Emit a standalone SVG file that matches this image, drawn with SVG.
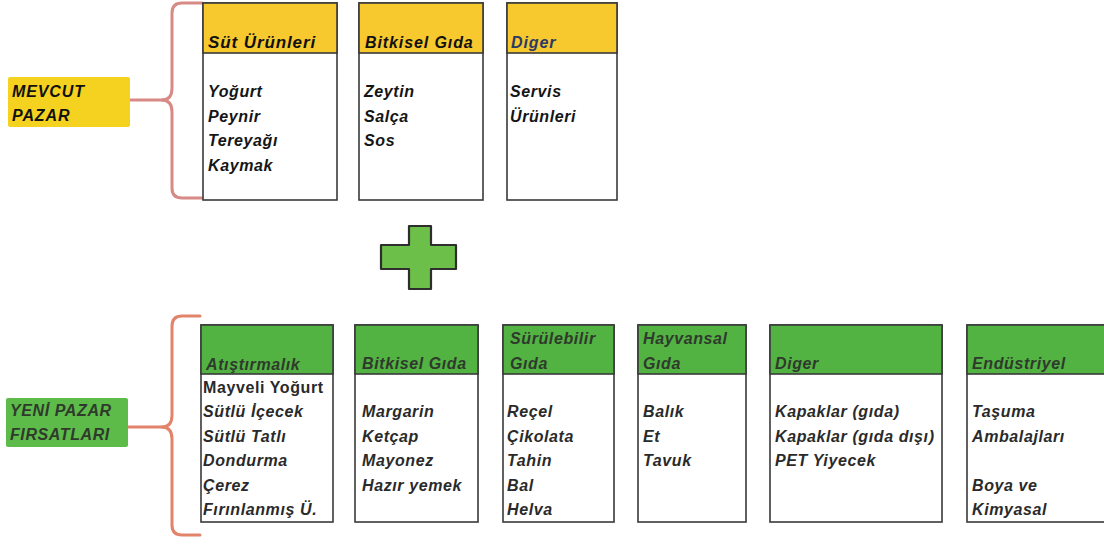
<svg xmlns="http://www.w3.org/2000/svg" width="1104" height="544" viewBox="0 0 1104 544">
<style>
text{font-family:"Liberation Sans",Arial,Helvetica,sans-serif;font-weight:bold;font-style:italic}
.box{fill:#fff;stroke:#3a3a3a;stroke-width:1.6}
.yh{fill:#F8C92E;stroke:#3a3a3a;stroke-width:1.6}
.gh{fill:#52B343;stroke:#3a3a3a;stroke-width:1.6}
.th{font-size:17px;letter-spacing:0.9px;fill:#111}
.tb{font-size:16px;letter-spacing:0.6px;fill:#151515}
.gt{font-size:16px;letter-spacing:0.6px;fill:#2f3a2c}
.lb{font-size:16px;letter-spacing:0.6px;fill:#2a2a2a}
.up{font-style:normal}
.brace{fill:none;stroke-width:3;stroke-linecap:round;stroke-linejoin:round}
</style>

<g id="connectors">
  <path class="brace" stroke="#D88A86" d="M202,3 H182 Q172,3 172,13 V88 Q172,100 162,100 Q172,100 172,112 V188 Q172,198 182,198 H202"/>
  <line x1="130" y1="100" x2="164" y2="100" stroke="#D88A86" stroke-width="3"/>
  <path class="brace" stroke="#E2846A" d="M200,316 H182 Q172,316 172,326 V415 Q172,427 162,427 Q172,427 172,439 V525 Q172,535 182,535 H200"/>
  <line x1="128" y1="427" x2="164" y2="427" stroke="#E2846A" stroke-width="3"/>
</g>

<g id="label-mevcut">
  <rect x="8" y="77" width="122" height="50" rx="2" fill="#F6D220"/>
  <text x="12" y="97" class="th" style="font-size:16px">MEVCUT</text>
  <text x="12" y="121" class="th" style="font-size:16px">PAZAR</text>
</g>

<g id="label-yeni">
  <rect x="6" y="398" width="122" height="49" rx="2" fill="#5DBB4A"/>
  <text x="10" y="416" class="gt">YENİ PAZAR</text>
  <text x="10" y="440" class="gt">FIRSATLARI</text>
</g>

<g id="top-sut">
  <rect class="box" x="203" y="3" width="134" height="197"/>
  <rect class="yh" x="203" y="3" width="134" height="50"/>
  <text x="208" y="48" class="th">Süt Ürünleri</text>
  <text x="208" y="97" class="tb">Yoğurt</text>
  <text x="208" y="121.5" class="tb">Peynir</text>
  <text x="208" y="146" class="tb">Tereyağı</text>
  <text x="208" y="170.5" class="tb">Kaymak</text>
</g>

<g id="top-bitkisel">
  <rect class="box" x="359" y="3" width="124" height="197"/>
  <rect class="yh" x="359" y="3" width="124" height="50"/>
  <text x="365" y="48" class="th" style="font-size:16px">Bitkisel Gıda</text>
  <text x="364" y="97" class="tb">Zeytin</text>
  <text x="364" y="121.5" class="tb">Salça</text>
  <text x="364" y="146" class="tb">Sos</text>
</g>

<g id="top-diger">
  <rect class="box" x="507" y="3" width="110" height="197"/>
  <rect class="yh" x="507" y="3" width="110" height="50"/>
  <text x="511" y="48" class="th" style="font-size:16px;fill:#2B3A67">Diger</text>
  <text x="510" y="97" class="tb">Servis</text>
  <text x="510" y="121.5" class="tb">Ürünleri</text>
</g>

<g id="plus">
  <path d="M409,226 H431 V245 H456 V269 H431 V289 H409 V269 H381 V245 H409 Z" fill="#6CC04A" stroke="#2e2e2e" stroke-width="2.2" stroke-linejoin="round"/>
</g>

<g id="new-atistirmalik">
  <rect class="box" x="201" y="325" width="132" height="197"/>
  <rect class="gh" x="201" y="325" width="132" height="49"/>
  <text x="206" y="370" class="gt">Atıştırmalık</text>
  <text x="203" y="392.5" class="lb up">Mayveli Yoğurt</text>
  <text x="203" y="417" class="lb">Sütlü İçecek</text>
  <text x="203" y="441.5" class="lb">Sütlü Tatlı</text>
  <text x="203" y="466" class="lb">Dondurma</text>
  <text x="203" y="490.5" class="lb">Çerez</text>
  <text x="203" y="515" class="lb">Fırınlanmış Ü.</text>
</g>

<g id="new-bitkisel">
  <rect class="box" x="355" y="325" width="123" height="197"/>
  <rect class="gh" x="355" y="325" width="123" height="49"/>
  <text x="362" y="369" class="gt">Bitkisel Gıda</text>
  <text x="362" y="417" class="lb">Margarin</text>
  <text x="362" y="441.5" class="lb">Ketçap</text>
  <text x="362" y="466" class="lb">Mayonez</text>
  <text x="362" y="490.5" class="lb">Hazır yemek</text>
</g>

<g id="new-surulebilir">
  <rect class="box" x="503" y="325" width="111" height="197"/>
  <rect class="gh" x="503" y="325" width="111" height="49"/>
  <text x="510" y="344" class="gt">Sürülebilir</text>
  <text x="510" y="369" class="gt">Gıda</text>
  <text x="507" y="417" class="lb">Reçel</text>
  <text x="507" y="441.5" class="lb">Çikolata</text>
  <text x="507" y="466" class="lb">Tahin</text>
  <text x="507" y="490.5" class="lb">Bal</text>
  <text x="507" y="515" class="lb">Helva</text>
</g>

<g id="new-hayvansal">
  <rect class="box" x="638" y="325" width="108" height="197"/>
  <rect class="gh" x="638" y="325" width="108" height="49"/>
  <text x="643" y="344" class="gt">Hayvansal</text>
  <text x="643" y="369" class="gt">Gıda</text>
  <text x="643" y="417" class="lb">Balık</text>
  <text x="643" y="441.5" class="lb">Et</text>
  <text x="643" y="466" class="lb">Tavuk</text>
</g>

<g id="new-diger">
  <rect class="box" x="770" y="325" width="172" height="197"/>
  <rect class="gh" x="770" y="325" width="172" height="49"/>
  <text x="775" y="369" class="gt">Diger</text>
  <text x="775" y="417" class="lb">Kapaklar (gıda)</text>
  <text x="775" y="441.5" class="lb">Kapaklar (gıda dışı)</text>
  <text x="775" y="466" class="lb">PET Yiyecek</text>
</g>

<g id="new-endustriyel">
  <rect class="box" x="967" y="325" width="150" height="197"/>
  <rect class="gh" x="967" y="325" width="150" height="49"/>
  <text x="972" y="369" class="gt">Endüstriyel</text>
  <text x="972" y="417" class="lb">Taşuma</text>
  <text x="972" y="441.5" class="lb">Ambalajları</text>
  <text x="972" y="490.5" class="lb">Boya ve</text>
  <text x="972" y="515" class="lb">Kimyasal</text>
</g>
</svg>
